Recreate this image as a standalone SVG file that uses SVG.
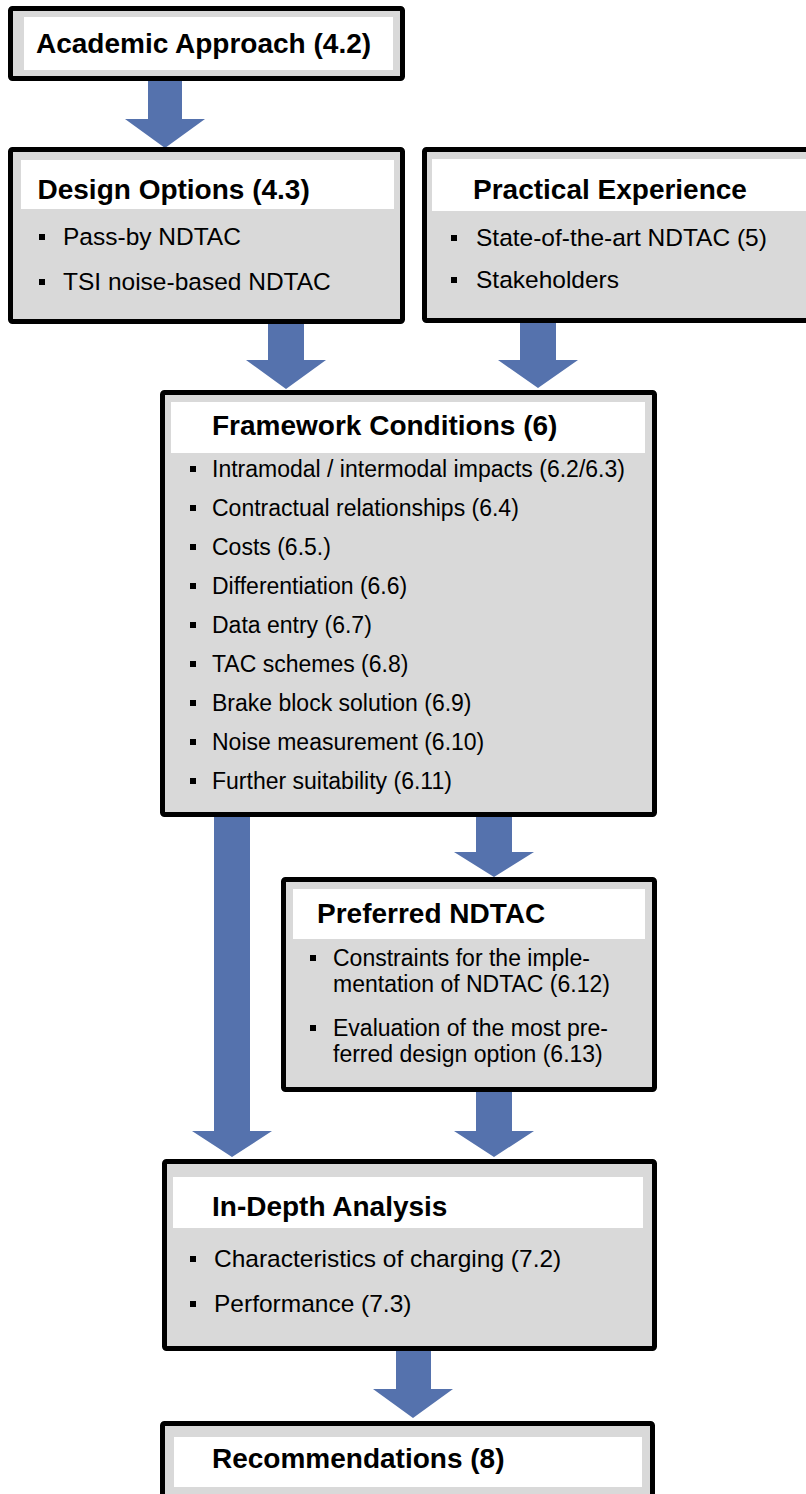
<svg xmlns="http://www.w3.org/2000/svg" width="806" height="1494" viewBox="0 0 806 1494">
<style>
.box{fill:#d9d9d9;stroke:#000;stroke-width:5}
.hdr{fill:#fff}
.h{font-family:"Liberation Sans",Arial,sans-serif;font-weight:bold;font-size:28px;fill:#000}
.b{font-family:"Liberation Sans",Arial,sans-serif;font-size:24.5px;fill:#000}
.s{font-family:"Liberation Sans",Arial,sans-serif;font-size:23px;fill:#000}
.bul{fill:#000}
.arr{fill:#5572ad}
</style>
<rect width="806" height="1494" fill="#fff"/>
<g id="connectors">
<polygon class="arr" points="148,81 182,81 182,119 205,119 165,148 125,119 148,119"/>
<polygon class="arr" points="268,324 304,324 304,360 326,360 286,389 246,360 268,360"/>
<polygon class="arr" points="520,323 556,323 556,360 578,360 538,388 498,360 520,360"/>
<polygon class="arr" points="214,817 250,817 250,1131 272,1131 232,1157 192,1131 214,1131"/>
<polygon class="arr" points="476,817 512,817 512,852 534,852 494,877 454,852 476,852"/>
<polygon class="arr" points="476,1092 512,1092 512,1131 534,1131 494,1157 454,1131 476,1131"/>
<polygon class="arr" points="396,1351 431,1351 431,1389 453,1389 413,1418 373,1389 396,1389"/>
</g>
<g id="academic">
<rect class="box" x="10.5" y="8.5" width="392" height="70" rx="2"/>
<rect class="hdr" x="24" y="17" width="369" height="53"/>
<text class="h" x="36" y="53">Academic Approach (4.2)</text>
</g>
<g id="design">
<rect class="box" x="10.5" y="149.5" width="392" height="172" rx="2"/>
<rect class="hdr" x="21" y="160" width="373" height="49"/>
<text class="h" x="37.5" y="199">Design Options (4.3)</text>
<rect class="bul" x="39" y="234" width="6" height="6"/>
<text class="b" x="63" y="245">Pass-by NDTAC</text>
<rect class="bul" x="39" y="279" width="6" height="6"/>
<text class="b" x="63" y="290">TSI noise-based NDTAC</text>
</g>
<g id="practical">
<rect class="box" x="424.5" y="149.5" width="420" height="171" rx="2"/>
<rect class="hdr" x="432" y="159" width="380" height="52"/>
<text class="h" x="473" y="199">Practical Experience</text>
<rect class="bul" x="451" y="235" width="6" height="6"/>
<text class="b" x="476" y="246">State-of-the-art NDTAC (5)</text>
<rect class="bul" x="451" y="277" width="6" height="6"/>
<text class="b" x="476" y="288">Stakeholders</text>
</g>
<g id="framework">
<rect class="box" x="162.5" y="392.5" width="492" height="422" rx="2"/>
<rect class="hdr" x="171" y="402" width="474" height="51"/>
<text class="h" x="212" y="435">Framework Conditions (6)</text>
<rect class="bul" x="190" y="466" width="6" height="6"/>
<text class="s" x="212" y="477">Intramodal / intermodal impacts (6.2/6.3)</text>
<rect class="bul" x="190" y="505" width="6" height="6"/>
<text class="s" x="212" y="516">Contractual relationships (6.4)</text>
<rect class="bul" x="190" y="544" width="6" height="6"/>
<text class="s" x="212" y="555">Costs (6.5.)</text>
<rect class="bul" x="190" y="583" width="6" height="6"/>
<text class="s" x="212" y="594">Differentiation (6.6)</text>
<rect class="bul" x="190" y="622" width="6" height="6"/>
<text class="s" x="212" y="633">Data entry (6.7)</text>
<rect class="bul" x="190" y="661" width="6" height="6"/>
<text class="s" x="212" y="672">TAC schemes (6.8)</text>
<rect class="bul" x="190" y="700" width="6" height="6"/>
<text class="s" x="212" y="711">Brake block solution (6.9)</text>
<rect class="bul" x="190" y="739" width="6" height="6"/>
<text class="s" x="212" y="750">Noise measurement (6.10)</text>
<rect class="bul" x="190" y="778" width="6" height="6"/>
<text class="s" x="212" y="789">Further suitability (6.11)</text>
</g>
<g id="preferred">
<rect class="box" x="283.5" y="879.5" width="371" height="210" rx="2"/>
<rect class="hdr" x="293" y="889" width="352" height="50"/>
<text class="h" x="317" y="923">Preferred NDTAC</text>
<rect class="bul" x="310" y="955" width="6" height="6"/>
<text class="s" x="333" y="966">Constraints for the imple-</text>
<text class="s" x="333" y="992">mentation of NDTAC (6.12)</text>
<rect class="bul" x="310" y="1025" width="6" height="6"/>
<text class="s" x="333" y="1036">Evaluation of the most pre-</text>
<text class="s" x="333" y="1062">ferred design option (6.13)</text>
</g>
<g id="indepth">
<rect class="box" x="164.5" y="1161.5" width="490" height="187" rx="2"/>
<rect class="hdr" x="173" y="1177" width="470" height="51"/>
<text class="h" x="212" y="1216">In-Depth Analysis</text>
<rect class="bul" x="190" y="1256" width="6" height="6"/>
<text class="b" x="214" y="1267">Characteristics of charging (7.2)</text>
<rect class="bul" x="190" y="1301" width="6" height="6"/>
<text class="b" x="214" y="1312">Performance (7.3)</text>
</g>
<g id="recommendations">
<rect class="box" x="162.5" y="1423.5" width="490" height="100" rx="2"/>
<rect class="hdr" x="174" y="1437" width="468" height="50"/>
<text class="h" x="212" y="1468">Recommendations (8)</text>
</g>
</svg>
